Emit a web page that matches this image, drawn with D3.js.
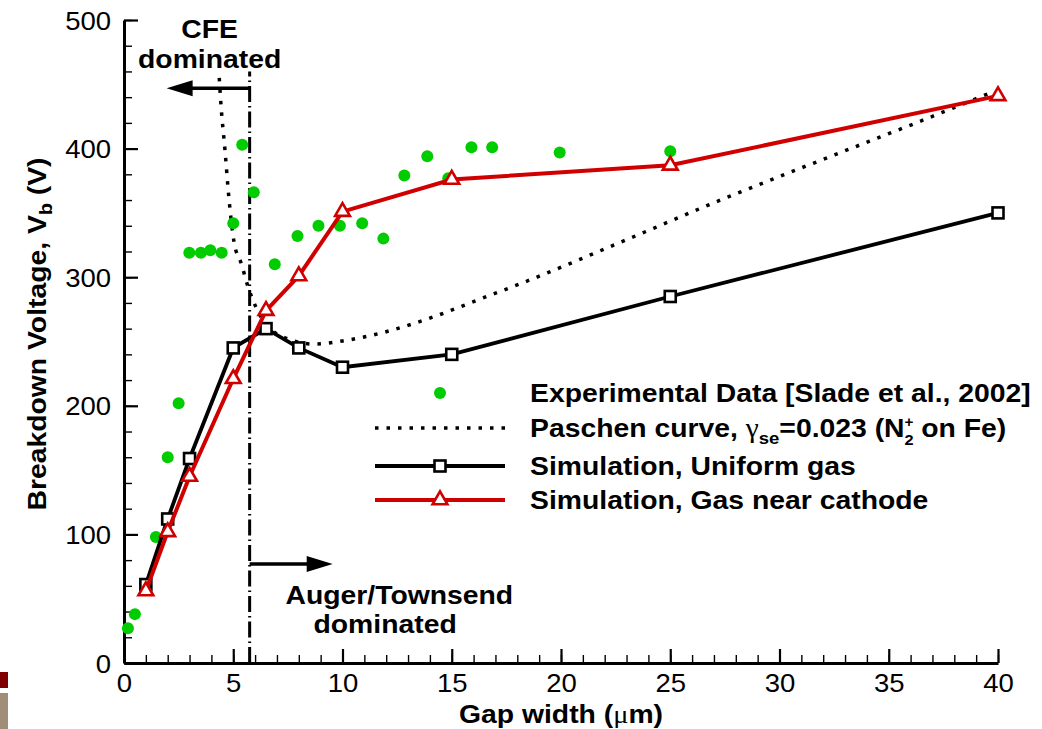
<!DOCTYPE html>
<html>
<head>
<meta charset="utf-8">
<script src="https://cdn.jsdelivr.net/npm/d3@7"></script>
<style>
  body { margin: 0; background: #fff; }
  svg { display: block; }
  text { font-family: "Liberation Sans", Arial, Helvetica, sans-serif; fill: #000; }
</style>
</head>
<body>
<script>
// simulation points (gap in um, breakdown voltage in V)
const gapSim = [1, 2, 3, 5, 6.5, 8, 10, 15, 25, 40];
const vbUniform = [61, 112, 159, 245, 260, 245, 230, 240, 285, 350];
const vbCathode = [56, 102, 145, 221, 274, 301, 351, 376, 387, 441];

// Slade et al. 2002 measurements
const expGap = [0.18, 0.5, 1.0, 1.46, 2.0, 2.5, 2.99, 3.52, 3.95, 4.47, 5.0, 5.41, 5.94, 6.9,
                7.94, 8.9, 9.88, 10.9, 11.87, 12.83, 13.88, 14.84, 15.9, 16.85, 19.94, 25.0];
const expVb = [27, 38, 57, 98, 160, 202, 319, 319, 321, 319, 342, 403, 366, 310,
               332, 340, 340, 342, 330, 379, 394, 377, 401, 401, 397, 398];

// Paschen curve
const paschenGap = [4.36, 4.43, 4.62, 4.81, 5.04, 5.38, 5.65, 6.03, 7.0, 8.7, 10.2, 12.3,
                    14.3, 16.3, 18.3, 22.7, 27.3, 31.9, 36.4, 39.6];
const paschenVb = [455, 436, 399, 360, 327, 310, 294, 277, 256, 248, 251, 259,
                   270, 283, 296, 327, 360, 391, 421, 443];

const xTicks = [0, 5, 10, 15, 20, 25, 30, 35, 40];
const yTicks = [0, 100, 200, 300, 400, 500];
const regimeSplit = 5.75;

const width = 1042, height = 729;
const SX = 1.09;          // glyphs in the original are a bit wider than Liberation
const red = "#d00000", green = "#00cc00";

const svg = d3.select("body").append("svg")
    .attr("width", width)
    .attr("height", height);

svg.append("rect").attr("width", width).attr("height", height).attr("fill", "#fff");

const x = d3.scaleLinear().domain([0, 40]).range([124, 998]);
const y = d3.scaleLinear().domain([0, 500]).range([663, 20]);

function label(px, py, str, opts = {}) {
    const t = svg.append("text")
        .attr("transform", `translate(${px},${py}) ${opts.rotate ? "rotate(-90) " : ""}scale(${SX},1)`)
        .attr("text-anchor", opts.anchor || "start")
        .attr("font-size", opts.size || 26)
        .attr("font-weight", opts.weight || "bold");
    if (str) t.text(str);
    return t;
}

// slide decoration bits at the bottom left
svg.append("rect").attr("x", 0).attr("y", 672).attr("width", 8).attr("height", 16).attr("fill", "#800000");
svg.append("rect").attr("x", 0).attr("y", 693).attr("width", 8).attr("height", 36).attr("fill", "#a08e78");

// ---- axes ----
const xMinor = svg.append("g")
    .attr("transform", `translate(0,${y(0)})`)
    .call(d3.axisBottom(x).tickValues(d3.range(0, 41, 1)).tickSize(-8).tickFormat(""));
xMinor.select(".domain").remove();
xMinor.selectAll("line").attr("stroke-width", 1.4);

const yMinor = svg.append("g")
    .attr("transform", `translate(${x(0)},0)`)
    .call(d3.axisLeft(y).tickValues(d3.range(0, 501, 20)).tickSize(-8).tickFormat(""));
yMinor.select(".domain").remove();
yMinor.selectAll("line").attr("stroke-width", 1.4);

const xAxis = svg.append("g")
    .attr("transform", `translate(0,${y(0)})`)
    .call(d3.axisBottom(x).tickValues(xTicks).tickSizeInner(-14).tickSizeOuter(0).tickFormat(d3.format("d")));
xAxis.select(".domain").attr("stroke-width", 3);
xAxis.selectAll("line").attr("stroke-width", 2.2);
xAxis.selectAll("text")
    .attr("y", 0).attr("dy", 0)
    .attr("font-size", 25)
    .attr("transform", `translate(0,29) scale(1.1,1)`)
    .style("font-family", "'Liberation Sans', Arial, sans-serif");

const yAxis = svg.append("g")
    .attr("transform", `translate(${x(0)},0)`)
    .call(d3.axisLeft(y).tickValues(yTicks).tickSizeInner(-14).tickSizeOuter(0).tickPadding(0).tickFormat(d3.format("d")));
yAxis.select(".domain").attr("stroke-width", 3);
yAxis.selectAll("line").attr("stroke-width", 2.2);
yAxis.selectAll("text")
    .attr("x", 0).attr("dy", "0.36em")
    .attr("font-size", 25)
    .attr("transform", `translate(-13,0) scale(1.1,1)`)
    .style("font-family", "'Liberation Sans', Arial, sans-serif");

// axis titles
const xt = label(561, 723, null, { anchor: "middle" });
xt.append("tspan").text("Gap width (");
xt.append("tspan").attr("font-family", "'Liberation Serif', serif").attr("font-weight", "normal").text("μ");
xt.append("tspan").text("m)");

const yt = label(46, 334, null, { anchor: "middle", rotate: true });
yt.append("tspan").text("Breakdown Voltage, V");
yt.append("tspan").attr("font-size", 18).attr("dy", 6).text("b");
yt.append("tspan").attr("dy", -6).text(" (V)");

// ---- regime divider and annotations ----
svg.append("line")
    .attr("x1", x(regimeSplit)).attr("x2", x(regimeSplit))
    .attr("y1", y(0)).attr("y2", y(460))
    .attr("stroke", "#000").attr("stroke-width", 3)
    .attr("stroke-dasharray", "16,4,1.5,4");

function arrow(v, from, to) {
    const yy = y(v), x0 = x(from), x1 = x(to);
    const dir = Math.sign(x1 - x0);
    svg.append("line")
        .attr("x1", x0).attr("x2", x1 - dir * 20)
        .attr("y1", yy).attr("y2", yy)
        .attr("stroke", "#000").attr("stroke-width", 3.5);
    svg.append("path")
        .attr("d", `M${x1},${yy} L${x1 - dir * 26},${yy - 8} L${x1 - dir * 26},${yy + 8} Z`)
        .attr("fill", "#000");
}
arrow(447, regimeSplit, 1.95);
arrow(77, regimeSplit, 9.55);

label(x(3.92), y(486), "CFE", { anchor: "middle" });
label(x(3.92), y(463), "dominated", { anchor: "middle" });
label(x(12.6), y(46), "Auger/Townsend", { anchor: "middle" });
label(x(11.95), y(23), "dominated", { anchor: "middle" });

// ---- data ----
const paschen = paschenGap.map((g, i) => [g, paschenVb[i]]);
svg.append("path")
    .datum(paschen)
    .attr("fill", "none")
    .attr("stroke", "#000")
    .attr("stroke-width", 3.5)
    .attr("stroke-dasharray", "3.5,8")
    .attr("d", d3.line().x(d => x(d[0])).y(d => y(d[1])).curve(d3.curveMonotoneX));

svg.append("g").selectAll("circle")
    .data(expGap.map((g, i) => [g, expVb[i]]))
    .join("circle")
    .attr("cx", d => x(d[0]))
    .attr("cy", d => y(d[1]))
    .attr("r", 6)
    .attr("fill", green);

const lineGen = d3.line().x(d => x(d[0])).y(d => y(d[1]));
const uniform = gapSim.map((g, i) => [g, vbUniform[i]]);
const cathode = gapSim.map((g, i) => [g, vbCathode[i]]);

svg.append("path").datum(uniform)
    .attr("fill", "none").attr("stroke", "#000").attr("stroke-width", 3.8)
    .attr("d", lineGen);
svg.append("g").selectAll("rect")
    .data(uniform)
    .join("rect")
    .attr("x", d => x(d[0]) - 5.5)
    .attr("y", d => y(d[1]) - 5.5)
    .attr("width", 11).attr("height", 11)
    .attr("fill", "#fff").attr("stroke", "#000").attr("stroke-width", 2.6);

const tri = d3.symbol(d3.symbolTriangle, 95);
svg.append("path").datum(cathode)
    .attr("fill", "none").attr("stroke", red).attr("stroke-width", 4)
    .attr("d", lineGen);
svg.append("g").selectAll("path")
    .data(cathode)
    .join("path")
    .attr("transform", d => `translate(${x(d[0])},${y(d[1])})`)
    .attr("d", tri)
    .attr("fill", "#fff").attr("stroke", red).attr("stroke-width", 2.6);

// ---- legend ----
const legendRows = [393, 428, 466, 500];
const legendLineX = [375, 505], legendMarkX = 440, legendTextX = 530;

svg.append("circle").attr("cx", legendMarkX).attr("cy", legendRows[0]).attr("r", 6).attr("fill", green);
svg.append("line")
    .attr("x1", legendLineX[0]).attr("x2", legendLineX[1])
    .attr("y1", legendRows[1]).attr("y2", legendRows[1])
    .attr("stroke", "#000").attr("stroke-width", 3.5).attr("stroke-dasharray", "3.5,8");
svg.append("line")
    .attr("x1", legendLineX[0]).attr("x2", legendLineX[1])
    .attr("y1", legendRows[2]).attr("y2", legendRows[2])
    .attr("stroke", "#000").attr("stroke-width", 3.8);
svg.append("rect")
    .attr("x", legendMarkX - 5.5).attr("y", legendRows[2] - 5.5).attr("width", 11).attr("height", 11)
    .attr("fill", "#fff").attr("stroke", "#000").attr("stroke-width", 2.6);
svg.append("line")
    .attr("x1", legendLineX[0]).attr("x2", legendLineX[1])
    .attr("y1", legendRows[3]).attr("y2", legendRows[3])
    .attr("stroke", red).attr("stroke-width", 4);
svg.append("path")
    .attr("transform", `translate(${legendMarkX},${legendRows[3]})`)
    .attr("d", tri)
    .attr("fill", "#fff").attr("stroke", red).attr("stroke-width", 2.6);

label(legendTextX, legendRows[0] + 9, "Experimental Data [Slade et al., 2002]");
const pt = label(legendTextX, legendRows[1] + 9, null);
pt.append("tspan").text("Paschen curve, ");
pt.append("tspan").attr("font-family", "'Liberation Serif', serif").attr("font-weight", "normal").attr("font-size", 27).text("γ");
pt.append("tspan").attr("font-size", 17).attr("dy", 7).text("se");
pt.append("tspan").attr("dy", -7).text("=0.023 (N");
pt.append("tspan").attr("font-size", 15).attr("dy", 8).text("2");
pt.append("tspan").attr("font-size", 14).attr("dx", -8.5).attr("dy", -18).text("+");
pt.append("tspan").attr("dy", 10).text(" on Fe)");
label(legendTextX, legendRows[2] + 9, "Simulation, Uniform gas");
label(legendTextX, legendRows[3] + 9, "Simulation, Gas near cathode");
</script>
</body>
</html>
